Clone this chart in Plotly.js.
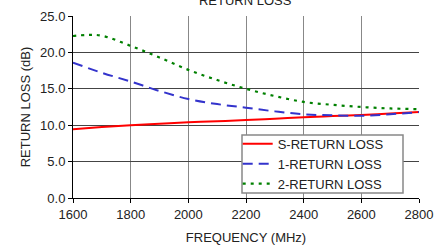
<!DOCTYPE html>
<html><head><meta charset="utf-8">
<script src="https://cdn.plot.ly/plotly-3.0.1.min.js"></script>
<style>html,body{margin:0;padding:0;background:#fff}#c{width:434px;height:245px}</style>
</head><body><div id="c"></div>
<script>
const freq = [1600,1700,1800,1900,2000,2100,2200,2300,2400,2500,2600,2700,2800];
const freqG = [1600,1650,1700,1800,1900,2000,2100,2200,2300,2400,2500,2600,2700,2800];
const sLoss = [9.45,9.75,10.0,10.2,10.4,10.55,10.7,10.9,11.1,11.25,11.4,11.6,11.8];
const oneLoss = [18.6,17.2,16.0,14.7,13.6,12.9,12.4,11.9,11.5,11.35,11.3,11.5,11.8];
const twoLoss = [22.25,22.4,22.3,20.9,19.3,17.6,16.2,15.0,14.0,13.2,12.8,12.5,12.3,12.2];
const names = ['S-RETURN LOSS','1-RETURN LOSS','2-RETURN LOSS'];
const xTicks = [1600,1800,2000,2200,2400,2600,2800];
const yTicks = [0,5,10,15,20,25];

const traces = [
  {x:freq,y:sLoss,name:names[0],mode:'lines',line:{color:'#ff0000',width:2,shape:'spline'}},
  {x:freq,y:oneLoss,name:names[1],mode:'lines',line:{color:'#3333cc',width:2,dash:'10px,6px',shape:'spline'}},
  {x:freqG,y:twoLoss,name:names[2],mode:'lines',line:{color:'#008000',width:2.2,dash:'3px,5px',shape:'spline'}}
];
const font = {family:'Liberation Sans, Arial, sans-serif',size:13,color:'#222'};
const layout = {
  width:434,height:245,
  margin:{l:73,r:15,t:16,b:47},
  paper_bgcolor:'#fff',plot_bgcolor:'#fff',
  font:font,
  title:{text:'RETURN LOSS',font:{size:13,color:'#222'},x:0.565,xanchor:'center',yref:'container',y:0.998,yanchor:'middle'},
  xaxis:{range:[1600,2800],tickvals:xTicks,ticktext:xTicks.map(String),showgrid:true,gridcolor:'#888',gridwidth:1,
    showline:true,linecolor:'#000',linewidth:1,ticks:'outside',ticklen:4,tickcolor:'#000',zeroline:false,
    title:{text:'FREQUENCY (MHz)',font:{size:13,color:'#222'},standoff:12},tickfont:{size:13}},
  yaxis:{range:[0,25],tickvals:yTicks,ticktext:yTicks.map(v=>v.toFixed(1)),showgrid:true,gridcolor:'#444',gridwidth:1,
    showline:true,linecolor:'#000',linewidth:1,ticks:'outside',ticklen:4,tickcolor:'#000',zeroline:false,
    title:{text:'RETURN LOSS (dB)',font:{size:13,color:'#222'},standoff:6},tickfont:{size:13}},
  shapes:[{type:'rect',xref:'paper',yref:'paper',layer:'above',
    x0:(242-73)/346,x1:(403-73)/346,y0:(198-193)/182,y1:(198-135)/182,
    fillcolor:'#fff',line:{color:'#888',width:1.5}}],
  showlegend:true,
  legend:{x:0.476,y:0.38,xanchor:'left',yanchor:'top',bgcolor:'rgba(0,0,0,0)',borderwidth:0,
    font:{size:13,color:'#222'},tracegroupgap:0,itemwidth:30}
};
Plotly.newPlot('c',traces,layout,{displayModeBar:false,staticPlot:true});
</script></body></html>
